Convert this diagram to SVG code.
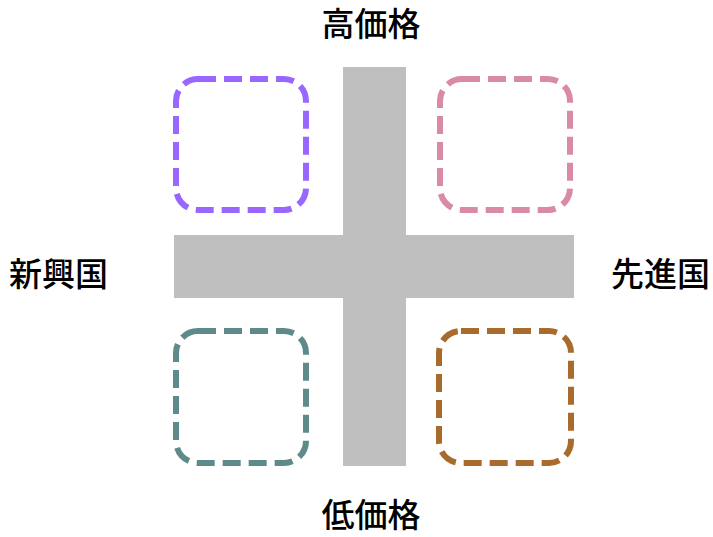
<svg xmlns="http://www.w3.org/2000/svg" width="713" height="537" viewBox="0 0 713 537">
<style>
.lbl{font-family:"Liberation Sans","Noto Sans CJK JP",sans-serif;font-size:33px;font-weight:500;fill:#000}
.box{fill:none;stroke-width:6;stroke-dasharray:18 8}
.bar{fill:#bfbfbf}
</style>
<rect width="713" height="537" fill="#fff"/>
<g id="axes">
<rect class="bar" x="343" y="67" width="63" height="399"/>
<rect class="bar" x="174" y="235" width="400" height="63"/>
</g>
<g id="q-top-left"><rect class="box" x="176" y="79" width="130" height="131" rx="22" stroke="#9966ff"/></g>
<g id="q-top-right"><rect class="box" x="440" y="79" width="130" height="131" rx="22" stroke="#d98aa6"/></g>
<g id="q-bottom-left"><rect class="box" x="176" y="331" width="130" height="132" rx="22" stroke="#5f8a8a"/></g>
<g id="q-bottom-right"><rect class="box" x="439" y="331" width="132" height="132" rx="22" stroke="#a86b2b"/></g>
<g id="connectors"></g>
<g id="labels">
<text class="lbl" x="371" y="36" text-anchor="middle">高価格</text>
<text class="lbl" x="371" y="527" text-anchor="middle">低価格</text>
<text class="lbl" x="9" y="286">新興国</text>
<text class="lbl" x="611" y="286">先進国</text>
</g>
</svg>
